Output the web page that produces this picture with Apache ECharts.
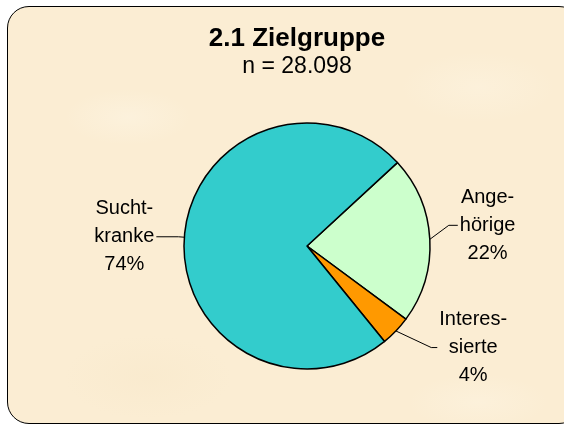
<!DOCTYPE html>
<html>
<head>
<meta charset="utf-8">
<script src="https://cdn.jsdelivr.net/npm/echarts@6/dist/echarts.min.js"></script>
<style>
  html, body { margin: 0; padding: 0; background: #fff; }
  #wrap { position: relative; width: 564px; height: 425px; overflow: hidden; }
  /* parchment panel with rounded black frame */
  #panel {
    position: absolute; left: 7px; top: 6px; width: 572px; height: 416px;
    border: 1.5px solid #000; border-radius: 22px;
    background:
      radial-gradient(ellipse 90px 40px at 120px 110px, rgba(253,244,226,0.6), rgba(253,244,226,0) 70%),
      radial-gradient(ellipse 110px 50px at 470px 80px, rgba(253,244,226,0.5), rgba(253,244,226,0) 70%),
      radial-gradient(ellipse 120px 60px at 140px 370px, rgba(247,231,200,0.4), rgba(247,231,200,0) 70%),
      radial-gradient(ellipse 100px 40px at 470px 395px, rgba(253,244,226,0.5), rgba(253,244,226,0) 70%),
      #FBEDD3;
  }
  #chart { position: absolute; left: 0; top: 0; width: 564px; height: 425px; }
</style>
</head>
<body>
<div id="wrap">
  <div id="panel"></div>
  <div id="chart"></div>
</div>
<script>
// ── Data ───────────────────────────────────────────────
const categories = ['Ange-\nhörige', 'Interes-\nsierte', 'Sucht-\nkranke'];
const shares     = [22, 4, 74];          // percent
const colors     = ['#CCFFCC', '#FF9900', '#33CCCC'];
const titleText  = '2.1 Zielgruppe';
const subText    = 'n = 28.098';

const FONT = '"Liberation Sans", Arial, sans-serif';

// leader line lengths per slice (radial, horizontal)
const leaderLen = [[19, 9], [24, 24], [6, 22]];

const chart = echarts.init(document.getElementById('chart'), null, { renderer: 'canvas' });

const option = {
  backgroundColor: 'transparent',
  animation: false,
  graphic: [
    {
      type: 'text', x: 297, y: 39,
      style: { text: titleText, font: 'bold 26px ' + FONT, fill: '#000', align: 'center', verticalAlign: 'middle' }
    },
    {
      type: 'text', x: 297, y: 67,
      style: { text: subText, font: '23px ' + FONT, fill: '#000', align: 'center', verticalAlign: 'middle' }
    }
  ],
  series: [{
    type: 'pie',
    center: [307, 246],
    radius: 123,
    startAngle: 42.7,
    clockwise: true,
    avoidLabelOverlap: false,
    itemStyle: { borderColor: '#000', borderWidth: 1.5 },
    emphasis: { disabled: true },
    label: {
      show: true,
      position: 'outside',
      distanceToLabelLine: 2,
      formatter: p => p.name.split('\n').map(s => '{t|' + s + '}').join('\n') + '\n{t|' + p.value + '%}',
      rich: {
        t: { fontFamily: FONT, fontSize: 20, lineHeight: 28, color: '#000', align: 'center' }
      }
    },
    labelLine: { show: true, lineStyle: { color: '#000', width: 1 } },
    labelLayout: function (params) {
      const pts = params.labelLinePoints.map(p => p.slice());
      if (params.dataIndex === 0) {
        // lift the "Angehörige" label so the leader bends upward as in the original
        pts[1][1] -= 13; pts[2][1] -= 13;
        return { dy: -13, labelLinePoints: pts };
      }
      if (params.dataIndex === 1) {
        // longer slanted segment, short horizontal tail
        pts[1][0] = pts[2][0] - 6;
        return { labelLinePoints: pts };
      }
      return {};
    },
    data: categories.map((name, i) => ({
      name: name,
      value: shares[i],
      itemStyle: { color: colors[i] },
      labelLine: { length: leaderLen[i][0], length2: leaderLen[i][1] }
    }))
  }]
};

chart.setOption(option);
</script>
</body>
</html>
